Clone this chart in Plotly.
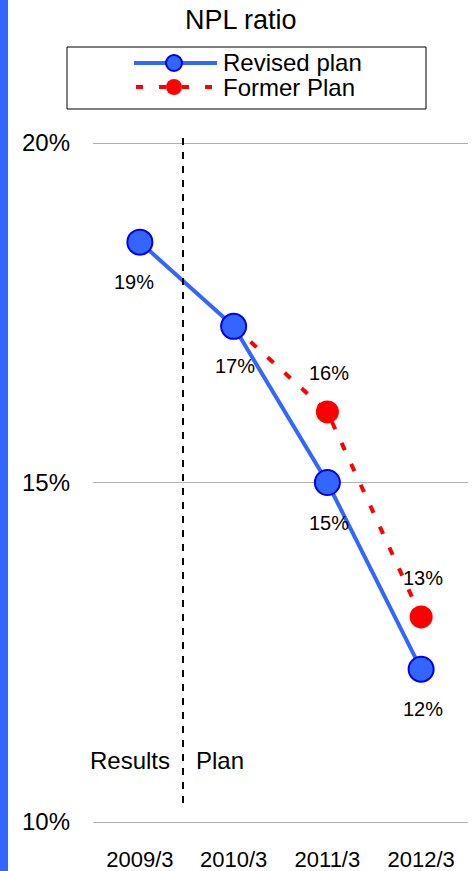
import plotly.graph_objects as go

categories = ["2009/3", "2010/3", "2011/3", "2012/3"]
revised = [18.54, 17.30, 15.00, 12.25]
former_cats = ["2010/3", "2011/3", "2012/3"]
former = [17.30, 16.04, 13.02]
y_ticks = [10, 15, 20]
y_tick_labels = ["10%", "15%", "20%"]

FONT = "Liberation Sans, Arial, sans-serif"
BLUE = "#3366FF"
RED = "#FF0000"

W, H = 472, 871
# plot frame (slightly padded so 10% / 20% gridlines are drawn)
PAD = 3
L, R, T, B = 93, 4, 143 - PAD, 49 - PAD
PW, PH = W - L - R, H - T - B
UNIT = (822 - 143) / 10.0  # pixels per percentage point


def px(x):
    return (x - L) / PW


def py(y):
    return (H - B - y) / PH


fig = go.Figure()
fig.add_trace(go.Scatter(
    x=former_cats, y=former, mode="lines+markers", name="Former Plan",
    line=dict(color=RED, width=4, dash="8px,15px"),
    marker=dict(color=RED, size=23, line=dict(width=0)),
    showlegend=False, hoverinfo="skip", cliponaxis=False))
fig.add_trace(go.Scatter(
    x=categories, y=revised, mode="lines+markers", name="Revised plan",
    line=dict(color=BLUE, width=4),
    marker=dict(color=BLUE, size=25, line=dict(color="#0000EE", width=2)),
    showlegend=False, hoverinfo="skip", cliponaxis=False))

annotations = []
xoffs = [-6, 1, 2, 2]
for c, v, dx in zip(categories, revised, xoffs):
    annotations.append(dict(x=c, y=v, text=f"{round(v)}%", showarrow=False,
                            xanchor="center", yanchor="middle",
                            yshift=-40, xshift=dx, font=dict(size=20, color="black", family=FONT)))
for c, v in list(zip(former_cats, former))[1:]:
    annotations.append(dict(x=c, y=v, text=f"{round(v)}%", showarrow=False,
                            xanchor="center", yanchor="middle",
                            yshift=39, xshift=2, font=dict(size=20, color="black", family=FONT)))


def text_at(x, y, text, size, anchor="center"):
    return dict(xref="paper", yref="paper", x=px(x), y=py(y), text=text,
                xanchor=anchor, yanchor="middle", showarrow=False,
                font=dict(size=size, color="black", family=FONT))


annotations += [
    text_at(241, 20, "NPL ratio", 27),
    text_at(172, 760, "Results", 24, "right"),
    text_at(194, 760, "Plan", 24, "left"),
    text_at(221, 63, "Revised plan", 24, "left"),
    text_at(221, 87, "Former Plan", 24, "left"),
]

shapes = [
    # left blue strip
    dict(type="rect", xref="paper", yref="paper", x0=px(0), x1=px(8), y0=py(H), y1=py(0),
         fillcolor=BLUE, line=dict(width=0), layer="below"),
    # vertical dashed divider
    dict(type="line", xref="paper", yref="paper", x0=px(183), x1=px(183), y0=py(803), y1=py(137),
         line=dict(color="black", width=2, dash="7px,7px")),
    # legend box
    dict(type="rect", xref="paper", yref="paper", x0=px(67), x1=px(426), y0=py(109), y1=py(47),
         line=dict(color="black", width=1)),
    # legend blue line
    dict(type="line", xref="paper", yref="paper", x0=px(134), x1=px(217), y0=py(63), y1=py(63),
         line=dict(color=BLUE, width=4)),
    # legend red dashed line
    dict(type="line", xref="paper", yref="paper", x0=px(136), x1=px(216), y0=py(87), y1=py(87),
         line=dict(color=RED, width=4, dash="7px,16px")),
    # legend blue marker
    dict(type="circle", xref="paper", yref="paper", xsizemode="pixel", ysizemode="pixel",
         xanchor=px(174), yanchor=py(63), x0=-8, x1=8, y0=-8, y1=8,
         fillcolor=BLUE, line=dict(color="#0000EE", width=2)),
    # legend red marker
    dict(type="circle", xref="paper", yref="paper", xsizemode="pixel", ysizemode="pixel",
         xanchor=px(174), yanchor=py(87), x0=-8, x1=8, y0=-8, y1=8,
         fillcolor=RED, line=dict(width=0)),
]

fig.update_layout(
    width=W, height=H,
    margin=dict(l=L, r=R, t=T, b=B, autoexpand=False),
    paper_bgcolor="white", plot_bgcolor="white",
    showlegend=False,
    annotations=annotations,
    shapes=shapes,
    font=dict(family=FONT, color="black"),
)
fig.update_xaxes(
    type="category", categoryorder="array", categoryarray=categories,
    range=[-0.5, 3.5], showgrid=False, zeroline=False, showline=False,
    ticks="", tickfont=dict(size=22, family=FONT, color="black"),
    ticklabelstandoff=19, automargin=False,
)
fig.update_yaxes(
    range=[min(y_ticks) - PAD / UNIT, max(y_ticks) + PAD / UNIT],
    tickvals=y_ticks, ticktext=y_tick_labels,
    showgrid=True, gridcolor="#B0B0B0", gridwidth=1, zeroline=False, showline=False,
    ticks="", tickfont=dict(size=24, family=FONT, color="black"),
    ticklabelstandoff=22, automargin=False,
)

fig.write_html("out.html")
